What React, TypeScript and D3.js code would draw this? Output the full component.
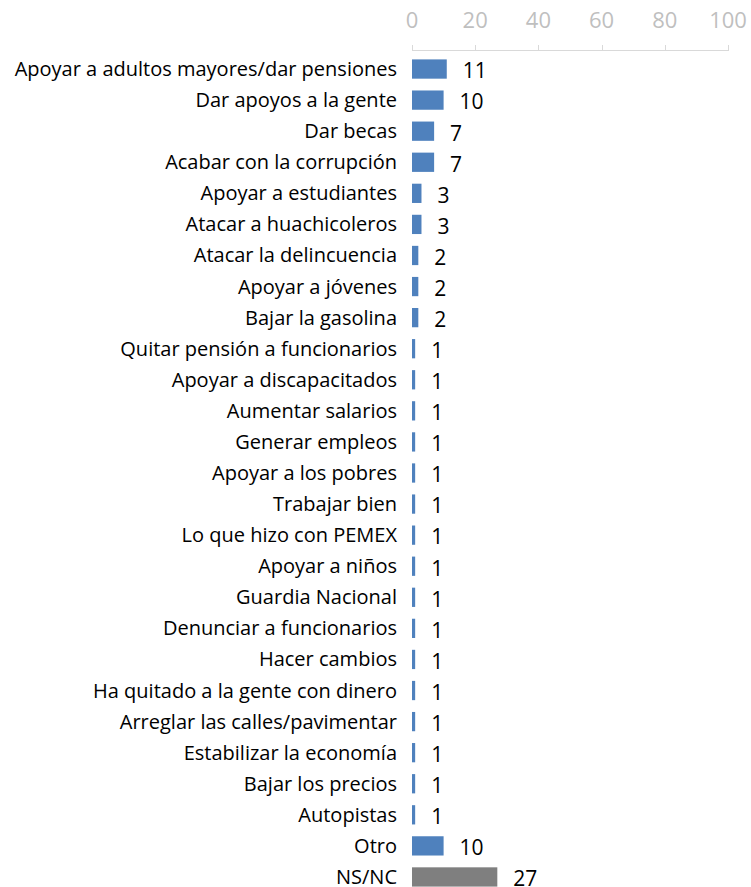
import React, { useEffect, useRef } from 'react';
import * as d3 from 'd3';

// Categories and values (percent)
const categories = [
  "Apoyar a adultos mayores/dar pensiones",
  "Dar apoyos a la gente",
  "Dar becas",
  "Acabar con la corrupción",
  "Apoyar a estudiantes",
  "Atacar a huachicoleros",
  "Atacar la delincuencia",
  "Apoyar a jóvenes",
  "Bajar la gasolina",
  "Quitar pensión a funcionarios",
  "Apoyar a discapacitados",
  "Aumentar salarios",
  "Generar empleos",
  "Apoyar a los pobres",
  "Trabajar bien",
  "Lo que hizo con PEMEX",
  "Apoyar a niños",
  "Guardia Nacional",
  "Denunciar a funcionarios",
  "Hacer cambios",
  "Ha quitado a la gente con dinero",
  "Arreglar las calles/pavimentar",
  "Estabilizar la economía",
  "Bajar los precios",
  "Autopistas",
  "Otro",
  "NS/NC",
];
const values = [11, 10, 7, 7, 3, 3, 2, 2, 2, 1, 1, 1, 1, 1, 1, 1, 1, 1, 1, 1, 1, 1, 1, 1, 1, 10, 27];
const xTicks = [0, 20, 40, 60, 80, 100];

const W = 751;
const H = 887;
const FONT = "'Open Sans', 'Noto Sans', sans-serif";

const App = () => {
  const svgRef = useRef<SVGSVGElement>(null);

  useEffect(() => {
    document.body.style.margin = "0";
    const svg = d3.select(svgRef.current);
    svg.selectAll("*").remove();

    const x = d3.scaleLinear().domain([0, 100]).range([412, 728]);
    const y = d3.scaleBand()
      .domain(categories)
      .range([53.5, 892.5])
      .paddingInner(0.38)
      .paddingOuter(0.19);

    // top axis
    const axis = svg.append("g");
    axis.append("line")
      .attr("x1", x(0)).attr("x2", x(100))
      .attr("y1", 50.5).attr("y2", 50.5)
      .attr("stroke", "#d9d9d9").attr("stroke-width", 1);
    axis.selectAll(".tick")
      .data(xTicks)
      .enter()
      .append("line")
      .attr("x1", d => Math.round(x(d)) + 0.5)
      .attr("x2", d => Math.round(x(d)) + 0.5)
      .attr("y1", 45).attr("y2", 51)
      .attr("stroke", "#d9d9d9");
    axis.selectAll(".tl")
      .data(xTicks)
      .enter()
      .append("text")
      .attr("x", d => x(d))
      .attr("y", 28)
      .attr("text-anchor", "middle")
      .attr("font-family", FONT)
      .attr("font-size", 22)
      .attr("fill", "#bfbfbf")
      .text(d => d);

    // bars
    svg.selectAll(".bar")
      .data(values)
      .enter()
      .append("rect")
      .attr("x", x(0))
      .attr("y", (d, i) => y(categories[i])!)
      .attr("width", d => x(d) - x(0))
      .attr("height", y.bandwidth())
      .attr("fill", (d, i) => categories[i] === "NS/NC" ? "#7f7f7f" : "#4f81bd");

    // category labels
    svg.selectAll(".cat")
      .data(categories)
      .enter()
      .append("text")
      .attr("x", 397)
      .attr("y", d => y(d)! + y.bandwidth() / 2)
      .attr("dy", "0.35em")
      .attr("text-anchor", "end")
      .attr("font-family", FONT)
      .attr("font-size", 20)
      .attr("fill", "#000")
      .text(d => d);

    // value labels
    svg.selectAll(".val")
      .data(values)
      .enter()
      .append("text")
      .attr("x", d => x(d) + 16)
      .attr("y", (d, i) => y(categories[i])! + y.bandwidth() / 2 + 2)
      .attr("dy", "0.35em")
      .attr("font-family", FONT)
      .attr("font-size", 21)
      .attr("fill", "#000")
      .text(d => d);
  }, []);

  return <svg ref={svgRef} width={W} height={H} style={{ display: "block", background: "#fff" }} />;
};

export default App;
